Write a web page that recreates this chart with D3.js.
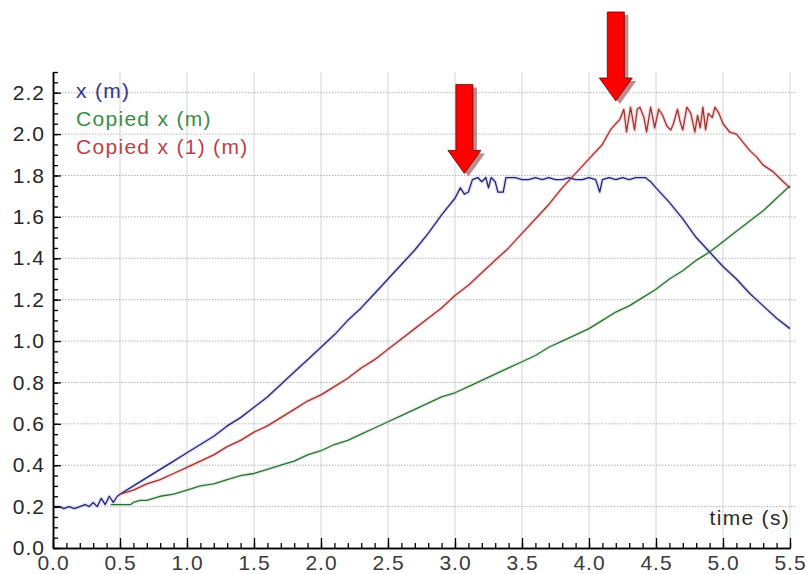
<!DOCTYPE html>
<html>
<head>
<meta charset="utf-8">
<script src="https://cdn.jsdelivr.net/npm/d3@7"></script>
<style>
  body { margin: 0; background: #fff; }
  svg { display: block; font-family: "Liberation Sans", Arial, sans-serif; }
</style>
</head>
<body>
<svg width="806" height="574"></svg>
<script>
// series: [time (s), x (m)]
const xSeries = [
  [0.00,0.20],[0.05,0.20],[0.08,0.19],[0.12,0.20],[0.16,0.19],[0.20,0.20],[0.24,0.21],
  [0.27,0.20],[0.30,0.22],[0.33,0.20],[0.36,0.24],[0.39,0.21],[0.42,0.25],[0.45,0.22],
  [0.48,0.25],[0.50,0.26],[0.60,0.30],[0.70,0.34],[0.80,0.38],[0.90,0.42],[1.00,0.46],
  [1.10,0.50],[1.20,0.54],[1.30,0.59],[1.40,0.63],[1.50,0.68],[1.60,0.73],[1.70,0.79],
  [1.80,0.85],[1.90,0.91],[2.00,0.97],[2.10,1.03],[2.20,1.10],[2.30,1.16],[2.40,1.23],
  [2.50,1.30],[2.60,1.37],[2.70,1.44],[2.80,1.52],[2.90,1.61],[3.00,1.69],[3.04,1.74],
  [3.07,1.71],[3.10,1.72],[3.13,1.78],[3.17,1.79],[3.20,1.77],[3.23,1.79],[3.25,1.74],
  [3.27,1.79],[3.30,1.77],[3.32,1.72],[3.36,1.72],[3.38,1.79],[3.45,1.79],[3.50,1.78],
  [3.55,1.78],[3.60,1.79],[3.65,1.78],[3.70,1.79],[3.75,1.78],[3.80,1.78],[3.85,1.79],
  [3.90,1.78],[3.95,1.78],[4.00,1.79],[4.05,1.78],[4.08,1.72],[4.10,1.78],[4.15,1.79],
  [4.20,1.78],[4.25,1.79],[4.30,1.78],[4.35,1.79],[4.42,1.79],[4.46,1.77],[4.50,1.74],
  [4.60,1.67],[4.70,1.59],[4.80,1.50],[4.90,1.43],[5.00,1.36],[5.10,1.30],[5.20,1.23],
  [5.30,1.17],[5.40,1.11],[5.50,1.06]
];
const copiedSeries = [
  [0.43,0.21],[0.50,0.21],[0.58,0.21],[0.60,0.22],[0.65,0.23],[0.70,0.23],[0.75,0.24],
  [0.80,0.25],[0.90,0.26],[1.00,0.28],[1.10,0.30],[1.20,0.31],[1.30,0.33],[1.40,0.35],
  [1.50,0.36],[1.60,0.38],[1.70,0.40],[1.80,0.42],[1.90,0.45],[2.00,0.47],[2.10,0.50],
  [2.20,0.52],[2.30,0.55],[2.40,0.58],[2.50,0.61],[2.60,0.64],[2.70,0.67],[2.80,0.70],
  [2.90,0.73],[3.00,0.75],[3.10,0.78],[3.20,0.81],[3.30,0.84],[3.40,0.87],[3.50,0.90],
  [3.60,0.93],[3.70,0.97],[3.80,1.00],[3.90,1.03],[4.00,1.06],[4.10,1.10],[4.20,1.14],
  [4.30,1.17],[4.40,1.21],[4.50,1.25],[4.60,1.30],[4.70,1.34],[4.80,1.39],[4.90,1.43],
  [5.00,1.48],[5.10,1.53],[5.20,1.58],[5.30,1.63],[5.40,1.69],[5.50,1.75]
];
const copied1Series = [
  [0.50,0.26],[0.60,0.28],[0.70,0.31],[0.80,0.33],[0.90,0.36],[1.00,0.39],[1.10,0.42],
  [1.20,0.45],[1.30,0.49],[1.40,0.52],[1.50,0.56],[1.60,0.59],[1.70,0.63],[1.80,0.67],
  [1.90,0.71],[2.00,0.74],[2.10,0.78],[2.20,0.82],[2.30,0.87],[2.40,0.91],[2.50,0.96],
  [2.60,1.01],[2.70,1.06],[2.80,1.11],[2.90,1.16],[3.00,1.22],[3.10,1.27],[3.20,1.33],
  [3.30,1.39],[3.40,1.45],[3.50,1.52],[3.60,1.59],[3.70,1.66],[3.80,1.74],[3.90,1.81],
  [4.00,1.88],[4.10,1.95],[4.16,2.02],[4.20,2.05],[4.23,2.07],[4.26,2.12],[4.28,2.01],
  [4.31,2.13],[4.34,2.02],[4.36,2.12],[4.38,2.13],[4.41,2.08],[4.43,2.01],[4.46,2.13],
  [4.49,2.03],[4.52,2.12],[4.55,2.09],[4.58,2.04],[4.61,2.02],[4.63,2.05],[4.66,2.12],
  [4.68,2.06],[4.70,2.02],[4.73,2.13],[4.76,2.10],[4.79,2.01],[4.81,2.09],[4.83,2.03],
  [4.85,2.13],[4.87,2.02],[4.89,2.10],[4.92,2.08],[4.94,2.13],[4.97,2.10],[5.00,2.05],
  [5.05,2.01],[5.10,2.00],[5.15,1.96],[5.20,1.92],[5.25,1.89],[5.30,1.85],[5.37,1.82],
  [5.45,1.77],[5.50,1.74]
];
const seriesNames = ["x (m)", "Copied x (m)", "Copied x (1) (m)"];
const xTickValues = [0, 0.5, 1, 1.5, 2, 2.5, 3, 3.5, 4, 4.5, 5, 5.5];
const yTickValues = [0, 0.2, 0.4, 0.6, 0.8, 1.0, 1.2, 1.4, 1.6, 1.8, 2.0, 2.2];
const xAxisTitle = "time (s)";
// arrow tips, in data units
const arrowTips = [[3.07, 1.81], [4.20, 2.16]];

const lineColors = ["#23236b", "#2f6b35", "#9a3434"];
const haloColors = ["#c8c8ee", "#c8e8c8", "#f4bcbc"];
const textColors = ["#34348e", "#3a8c4a", "#bc404a"];

const svg = d3.select("svg");
const margin = {top: 72, right: 16, bottom: 26, left: 53};
const width = 806 - margin.left - margin.right;
const height = 574 - margin.top - margin.bottom;

const x = d3.scaleLinear().domain([0, 5.5]).range([0, width]);
const y = d3.scaleLinear().domain([0, 2.3]).range([height, 0]);

const g = svg.append("g").attr("transform", `translate(${margin.left},${margin.top})`);

// grid
g.append("g").selectAll("line")
  .data(xTickValues.slice(1))
  .enter().append("line")
  .attr("x1", d => x(d)).attr("x2", d => x(d))
  .attr("y1", 0).attr("y2", height)
  .attr("stroke", "#d4d4d4").attr("stroke-width", 1);

g.append("g").selectAll("line")
  .data(yTickValues.slice(1))
  .enter().append("line")
  .attr("x1", 0).attr("x2", width + 6)
  .attr("y1", d => y(d)).attr("y2", d => y(d))
  .attr("stroke", "#b4b4b4").attr("stroke-width", 1)
  .attr("stroke-dasharray", "1.5,1.5");

// lines
const line = d3.line().x(d => x(d[0])).y(d => y(d[1]));
const allSeries = [xSeries, copiedSeries, copied1Series];

allSeries.forEach(function (s, i) {
  g.append("path").datum(s)
    .attr("d", line)
    .attr("fill", "none")
    .attr("stroke", haloColors[i])
    .attr("stroke-width", 4)
    .attr("stroke-opacity", 0.5)
    .attr("stroke-linejoin", "round");
});
allSeries.forEach(function (s, i) {
  g.append("path").datum(s)
    .attr("d", line)
    .attr("fill", "none")
    .attr("stroke", lineColors[i])
    .attr("stroke-width", 1.3)
    .attr("stroke-linejoin", "round");
});

// axes
function styleAxis(sel, color) {
  sel.select(".domain").attr("stroke", "#000").attr("stroke-width", 1.5);
  sel.selectAll(".tick line").attr("stroke", "#000").attr("stroke-width", 1.3);
  sel.selectAll("text")
    .attr("font-family", "Liberation Sans, Arial, sans-serif")
    .attr("font-size", 21)
    .attr("letter-spacing", 1)
    .attr("fill", color);
}

g.append("g")
  .call(d3.axisLeft(y).tickValues(d3.range(0, 2.301, 0.05)).tickSize(-5).tickSizeOuter(0).tickFormat(""))
  .call(styleAxis, "#222");
g.append("g")
  .call(d3.axisLeft(y).tickValues(yTickValues).tickSize(-8).tickSizeOuter(0)
    .tickPadding(8).tickFormat(d3.format(".1f")))
  .call(styleAxis, "#262626");

g.append("g").attr("transform", `translate(0,${height})`)
  .call(d3.axisBottom(x).tickValues(d3.range(0, 5.501, 0.1)).tickSize(-5).tickSizeOuter(0).tickFormat(""))
  .call(styleAxis, "#222");
g.append("g").attr("transform", `translate(0,${height})`)
  .call(d3.axisBottom(x).tickValues(xTickValues).tickSize(-10).tickSizeOuter(0)
    .tickPadding(7).tickFormat(d3.format(".1f")))
  .call(styleAxis, "#3a3a3a");

// x axis title
g.append("text")
  .attr("x", width)
  .attr("y", height - 23)
  .attr("text-anchor", "end")
  .attr("font-size", 21)
  .attr("letter-spacing", 1.3)
  .attr("fill", "#2a2a2a")
  .text(xAxisTitle);

// legend
g.append("g").selectAll("text")
  .data(seriesNames)
  .enter().append("text")
  .attr("x", 23)
  .attr("y", (d, i) => 26 + i * 28)
  .attr("font-size", 21)
  .attr("letter-spacing", 1.3)
  .attr("fill", (d, i) => textColors[i])
  .text(d => d);

// red arrows
const arrowShape = [[-8.5,-89],[8.5,-89],[8.5,-23],[16.5,-23],[0,0],[-16.5,-23],[-8.5,-23]];
const arrowPath = "M" + arrowShape.map(p => p.join(",")).join("L") + "Z";

const arrows = g.append("g").selectAll("g")
  .data(arrowTips)
  .enter().append("g")
  .attr("transform", d => `translate(${x(d[0])},${y(d[1])})`);

arrows.append("path")
  .attr("d", arrowPath)
  .attr("transform", "translate(4,3)")
  .attr("fill", "#b07878")
  .attr("opacity", 0.85);
arrows.append("path")
  .attr("d", arrowPath)
  .attr("fill", "#ff0000")
  .attr("stroke", "#6a0000")
  .attr("stroke-width", 0.8)
  .attr("stroke-linejoin", "miter");
</script>
</body>
</html>
